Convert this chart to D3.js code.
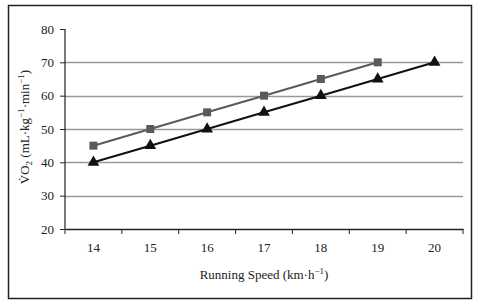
<!DOCTYPE html>
<html>
<head>
<meta charset="utf-8">
<script src="https://cdn.jsdelivr.net/npm/d3@7"></script>
<style>
  body { margin: 0; background: #fff; }
  text { font-family: "Liberation Serif", "Times New Roman", serif; fill: #222; }
</style>
</head>
<body>
<div id="chart"></div>
<script>
const speeds = ["14", "15", "16", "17", "18", "19", "20"];
const squareSeries = [45, 50, 55, 60, 65, 70];
const triangleSeries = [40, 45, 50, 55, 60, 65, 70];
const yTicks = [20, 30, 40, 50, 60, 70, 80];

const width = 500, height = 305;
const margin = { top: 29, right: 37, bottom: 76, left: 65 };

const svg = d3.select("#chart").append("svg")
  .attr("width", width)
  .attr("height", height);

// outer frame
svg.append("rect")
  .attr("x", 8.5).attr("y", 5.5)
  .attr("width", 463).attr("height", 293)
  .attr("fill", "none")
  .attr("stroke", "#222")
  .attr("stroke-width", 1.5);

const x = d3.scaleBand()
  .domain(speeds)
  .range([margin.left, width - margin.right]);

const y = d3.scaleLinear()
  .domain([20, 80])
  .range([height - margin.bottom, margin.top]);

// gridlines
svg.append("g")
  .selectAll("line")
  .data(yTicks.filter(d => d > 20 && d < 80))
  .join("line")
  .attr("x1", margin.left)
  .attr("x2", width - margin.right)
  .attr("y1", d => Math.round(y(d)) + 0.5)
  .attr("y2", d => Math.round(y(d)) + 0.5)
  .attr("stroke", "#999")
  .attr("stroke-width", 1.3);

// y axis
const yAxis = svg.append("g")
  .attr("transform", `translate(${margin.left},0)`)
  .call(d3.axisLeft(y).tickValues(yTicks).tickSize(5).tickPadding(6));
yAxis.selectAll("text").attr("font-size", 13).attr("font-family", "Liberation Serif");
yAxis.selectAll("line, path").attr("stroke", "#222");
yAxis.select(".domain").attr("d", `M0,${y(20)}V${y(80)}`).attr("stroke-width", 1.2);

// x axis
const xAxis = svg.append("g")
  .attr("transform", `translate(0,${y(20)})`)
  .call(d3.axisBottom(x).tickSize(0).tickPadding(14));
xAxis.selectAll("text").attr("font-size", 13).attr("font-family", "Liberation Serif");
xAxis.select(".domain").attr("stroke", "#222").attr("stroke-width", 1.5);
xAxis.selectAll(".edge")
  .data(d3.range(speeds.length + 1))
  .join("line")
  .attr("class", "edge")
  .attr("x1", i => margin.left + i * x.step())
  .attr("x2", i => margin.left + i * x.step())
  .attr("y1", 0).attr("y2", 5)
  .attr("stroke", "#222");

// axis titles
const xt = svg.append("text")
  .attr("x", (margin.left + width - margin.right) / 2)
  .attr("y", 279)
  .attr("text-anchor", "middle")
  .attr("font-size", 13);
xt.append("tspan").text("Running Speed (km·h");
xt.append("tspan").attr("font-size", 9).attr("dy", -5).text("−1");
xt.append("tspan").attr("dy", 5).text(")");

const yt = svg.append("text")
  .attr("transform", `translate(29,${(y(20) + y(80)) / 2 - 2}) rotate(-90)`)
  .attr("text-anchor", "middle")
  .attr("font-size", 13);
yt.append("tspan").text("V\u0307O");
yt.append("tspan").attr("font-size", 9).attr("dy", 3).text("2");
yt.append("tspan").attr("dy", -3).text(" (mL·kg");
yt.append("tspan").attr("font-size", 9).attr("dy", -5).text("−1");
yt.append("tspan").attr("dy", 5).text("·min");
yt.append("tspan").attr("font-size", 9).attr("dy", -5).text("−1");
yt.append("tspan").attr("dy", 5).text(")");

const cx = (d, i) => x(speeds[i]) + x.bandwidth() / 2;
const line = d3.line().x(cx).y(d => y(d));

// square series
svg.append("path")
  .datum(squareSeries)
  .attr("d", line)
  .attr("fill", "none")
  .attr("stroke", "#5a5a5a")
  .attr("stroke-width", 2);
svg.append("g").selectAll("path")
  .data(squareSeries)
  .join("path")
  .attr("transform", (d, i) => `translate(${cx(d, i)},${y(d)})`)
  .attr("d", d3.symbol(d3.symbolSquare, 64))
  .attr("fill", "#5a5a5a");

// triangle series
svg.append("path")
  .datum(triangleSeries)
  .attr("d", line)
  .attr("fill", "none")
  .attr("stroke", "#111")
  .attr("stroke-width", 2);
svg.append("g").selectAll("path")
  .data(triangleSeries)
  .join("path")
  .attr("transform", (d, i) => `translate(${cx(d, i)},${y(d)})`)
  .attr("d", d3.symbol(d3.symbolTriangle, 60))
  .attr("fill", "#111");
</script>
</body>
</html>
